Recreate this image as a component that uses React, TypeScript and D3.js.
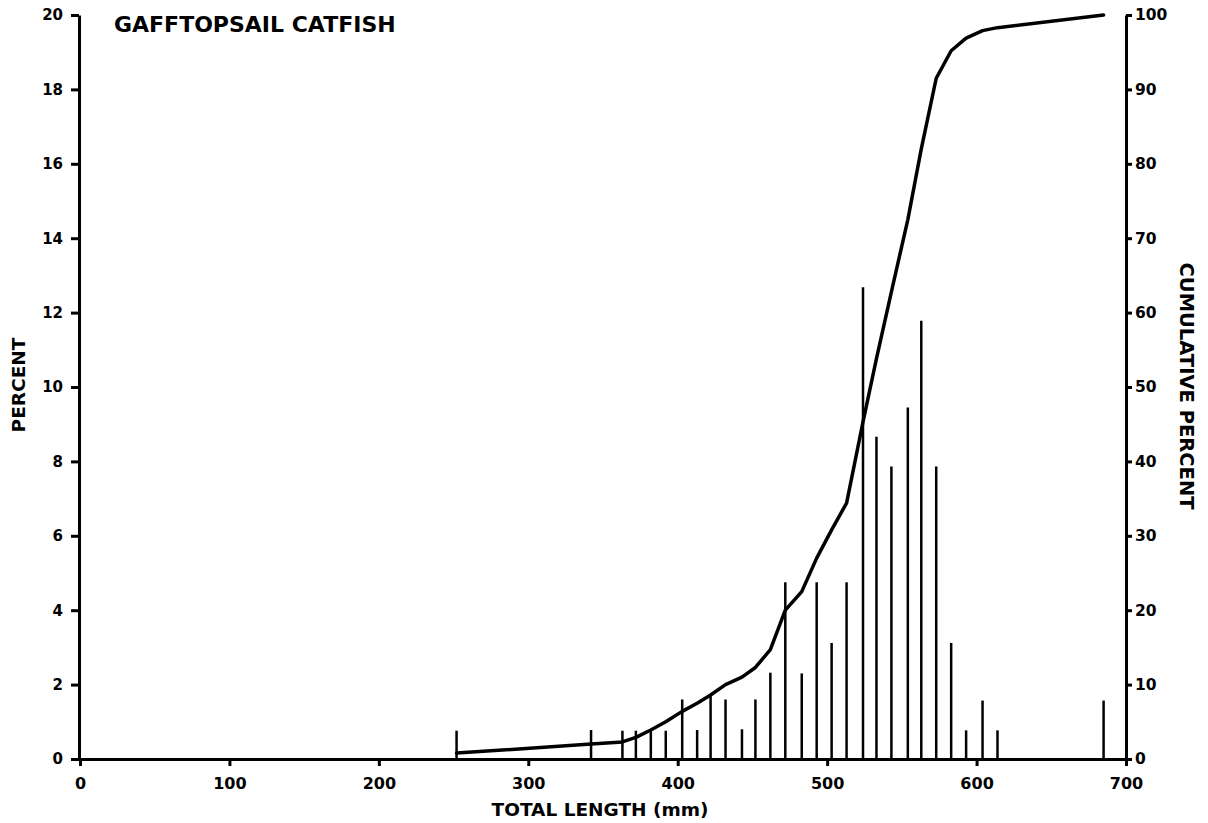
import React, { useEffect, useRef } from "react";
import * as d3 from "d3";

// Length classes (total length, mm) for the gafftopsail catfish sample
const lengths = [252, 342, 363, 372, 382, 392, 403, 413, 422, 432, 443, 452, 462, 472, 483, 493, 503, 513, 524, 533, 543, 554, 563, 573, 583, 593, 604, 614, 685];
// Percent of fish in each length class
const percents = [0.76, 0.78, 0.76, 0.76, 0.76, 0.76, 1.6, 0.78, 1.75, 1.6, 0.8, 1.6, 2.32, 4.75, 2.3, 4.75, 3.12, 4.75, 12.68, 8.66, 7.86, 9.45, 11.78, 7.86, 3.12, 0.77, 1.57, 0.77, 1.57];
// Cumulative percent at each length class
const cumulative = [0.8, 2.0, 2.3, 2.9, 3.9, 5.0, 6.4, 7.5, 8.6, 10.0, 11.0, 12.3, 14.7, 20.0, 22.5, 27.0, 30.8, 34.4, 45.3, 53.8, 62.8, 72.5, 82.0, 91.5, 95.2, 96.9, 97.9, 98.3, 100];

const xTicks = [0, 100, 200, 300, 400, 500, 600, 700];
const leftTicks = [0, 2, 4, 6, 8, 10, 12, 14, 16, 18, 20];
const rightTicks = [0, 10, 20, 30, 40, 50, 60, 70, 80, 90, 100];

const W = 1208;
const H = 823;
const FONT = "'DejaVu Sans', sans-serif";

const x = d3.scaleLinear().domain([0, 700]).range([80, 1126]);
const yL = d3.scaleLinear().domain([0, 20]).range([759, 15]);
const yR = d3.scaleLinear().domain([0, 100]).range([759, 15]);

function styleAxis(g: d3.Selection<SVGGElement, unknown, null, undefined>, size: number) {
  g.attr("font-family", FONT).attr("font-size", size).attr("font-weight", "bold");
  g.select(".domain").attr("stroke", "#000").attr("stroke-width", 3);
  g.selectAll(".tick line").attr("stroke", "#000").attr("stroke-width", 3);
  g.selectAll(".tick text").attr("fill", "#000");
}

export default function App() {
  const leftRef = useRef<SVGGElement>(null);
  const rightRef = useRef<SVGGElement>(null);
  const bottomRef = useRef<SVGGElement>(null);

  useEffect(() => {
    if (leftRef.current) {
      const g = d3.select(leftRef.current);
      g.call(d3.axisLeft(yL).tickValues(leftTicks).tickSize(8).tickPadding(8).tickSizeOuter(0));
      styleAxis(g, 15);
    }
    if (rightRef.current) {
      const g = d3.select(rightRef.current);
      g.call(d3.axisRight(yR).tickValues(rightTicks).tickSize(6).tickPadding(3).tickSizeOuter(0));
      styleAxis(g, 15.5);
    }
    if (bottomRef.current) {
      const g = d3.select(bottomRef.current);
      g.call(d3.axisBottom(x).tickValues(xTicks).tickSize(7).tickPadding(12).tickSizeOuter(0));
      styleAxis(g, 16);
    }
  }, []);

  const cumLine = d3
    .line<number>()
    .x((_, i) => x(lengths[i]))
    .y((d) => yR(d))
    .curve(d3.curveLinear);

  return (
    <svg
      width={W}
      height={H}
      viewBox={`0 0 ${W} ${H}`}
      style={{ position: "absolute", left: 0, top: 0, background: "#fff" }}
    >
      <rect x={0} y={0} width={W} height={H} fill="#fff" />

      {/* frequency spikes */}
      <g stroke="#000" strokeWidth={2.5}>
        {lengths.map((len, i) => (
          <line key={len} x1={x(len)} x2={x(len)} y1={yL(0)} y2={yL(percents[i])} />
        ))}
      </g>

      {/* cumulative percent curve */}
      <path
        d={cumLine(cumulative) || ""}
        fill="none"
        stroke="#000"
        strokeWidth={3.5}
        strokeLinejoin="round"
        strokeLinecap="round"
      />

      <g ref={bottomRef} transform={`translate(0,${yL(0)})`} />
      <g ref={leftRef} transform="translate(79,0)" />
      <g ref={rightRef} transform={`translate(${x(700)},0)`} />

      <text x={114} y={32} fontFamily={FONT} fontWeight="bold" fontSize={22} fill="#000">
        GAFFTOPSAIL CATFISH
      </text>

      <text
        x={600}
        y={816}
        textAnchor="middle"
        fontFamily={FONT}
        fontWeight="bold"
        fontSize={18.5}
        fill="#000"
      >
        TOTAL LENGTH (mm)
      </text>

      <text
        transform="translate(25,385) rotate(-90)"
        textAnchor="middle"
        fontFamily={FONT}
        fontWeight="bold"
        fontSize={18.5}
        fill="#000"
      >
        PERCENT
      </text>

      <text
        transform="translate(1180,386) rotate(90)"
        textAnchor="middle"
        fontFamily={FONT}
        fontWeight="bold"
        fontSize={19.5}
        fill="#000"
      >
        CUMULATIVE PERCENT
      </text>
    </svg>
  );
}
